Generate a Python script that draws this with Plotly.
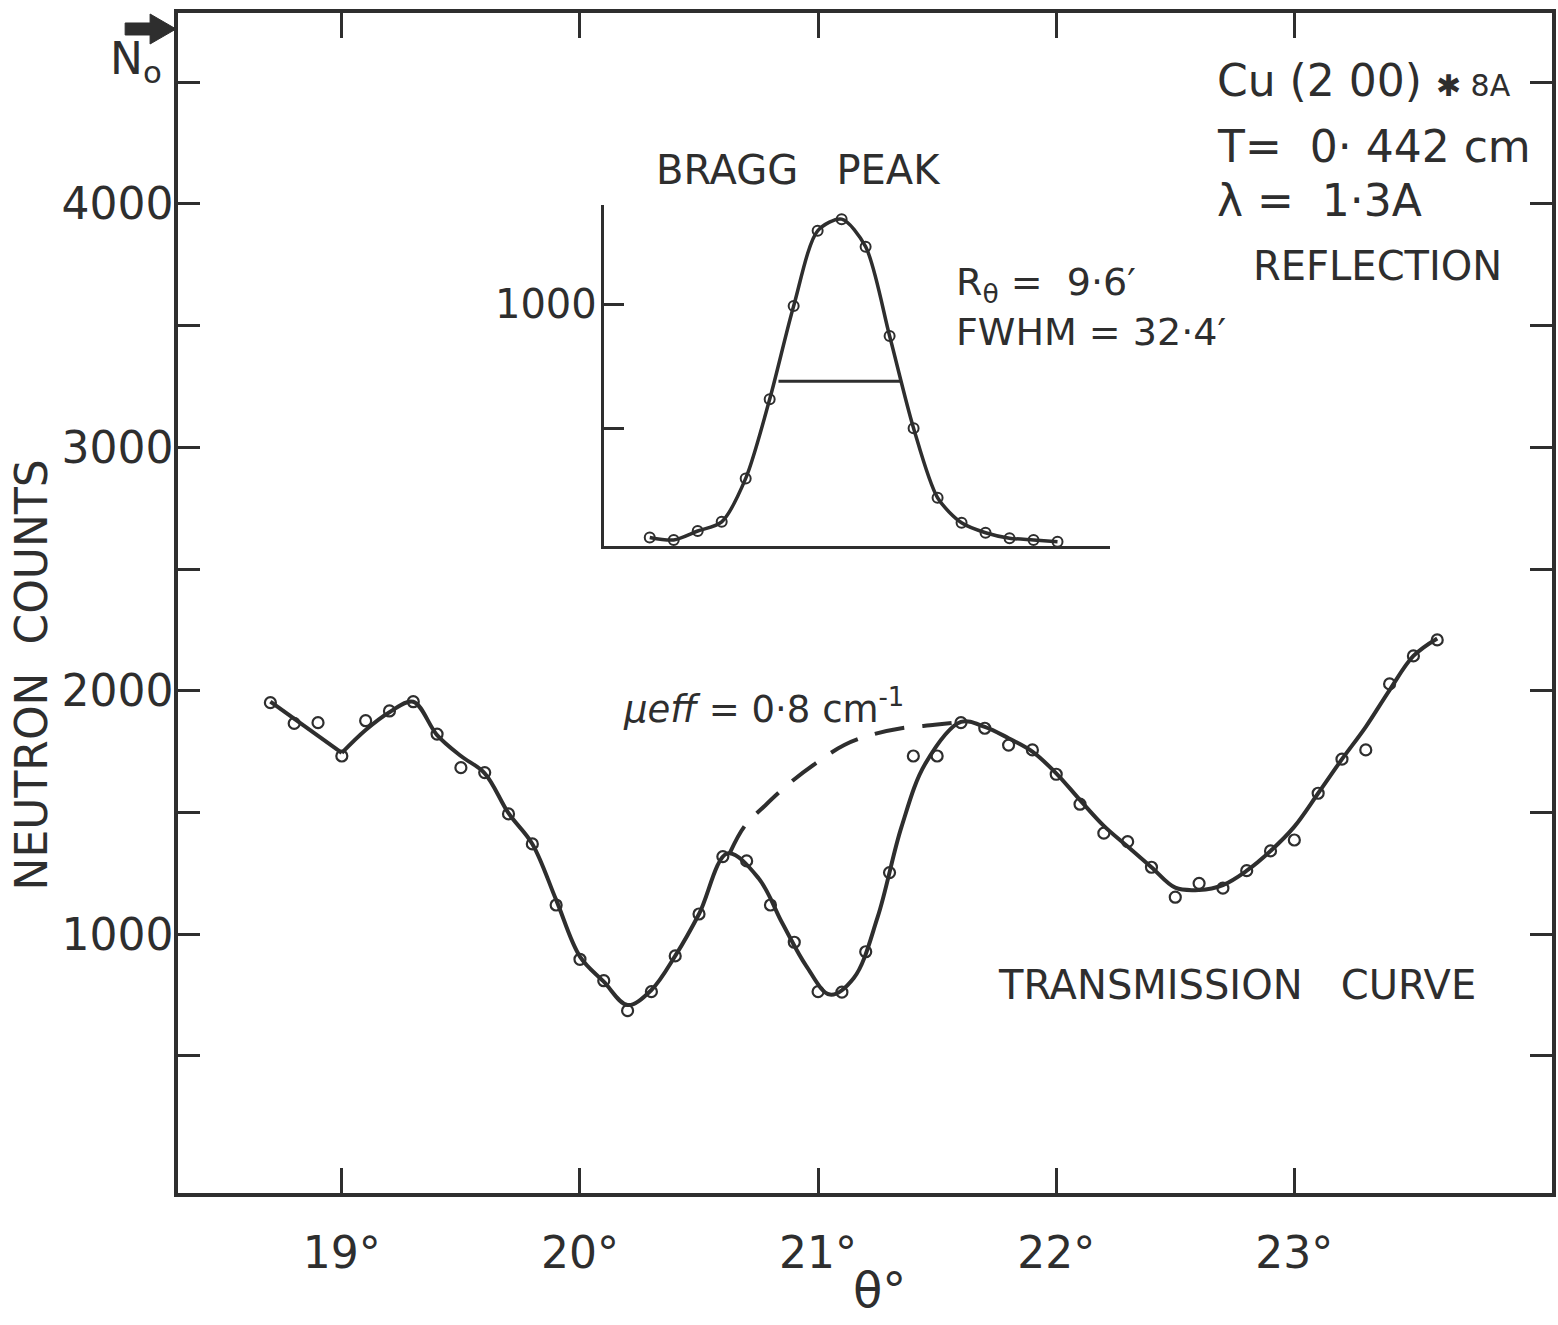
import plotly.graph_objects as go

# ---------------- data ----------------
# Transmission curve: measured points (theta in degrees, neutron counts)
theta = [18.7, 18.8, 18.9, 19.0, 19.1, 19.2, 19.3, 19.4, 19.5, 19.6,
         19.7, 19.8, 19.9, 20.0, 20.1, 20.2, 20.3, 20.4, 20.5, 20.6,
         20.7, 20.8, 20.9, 21.0, 21.1, 21.2, 21.3, 21.4, 21.5, 21.6,
         21.7, 21.8, 21.9, 22.0, 22.1, 22.2, 22.3, 22.4, 22.5, 22.6,
         22.7, 22.8, 22.9, 23.0, 23.1, 23.2, 23.3, 23.4, 23.5, 23.6]
counts = [1951, 1866, 1869, 1732, 1877, 1917, 1955, 1822, 1684, 1664,
          1494, 1371, 1120, 897, 809, 686, 764, 911, 1083, 1319,
          1301, 1120, 967, 764, 762, 928, 1253, 1732, 1732, 1869,
          1846, 1777, 1757, 1657, 1534, 1415, 1380, 1275, 1152, 1209,
          1189, 1261, 1342, 1387, 1579, 1719, 1757, 2028, 2143, 2209]

# Hand-drawn fitted curve
fit_a_theta = [18.7, 19.0]
fit_a_counts = [1955, 1745]
fit_b_theta = [19.0, 19.1, 19.2, 19.3, 19.4, 19.5, 19.6, 19.7, 19.8, 19.9,
               20.0, 20.1, 20.2, 20.3, 20.4, 20.5, 20.62, 20.75, 20.85, 20.95,
               21.05, 21.15, 21.25, 21.35, 21.45, 21.6, 21.7, 21.8,
               21.9, 22.0, 22.1, 22.2, 22.3, 22.4, 22.5, 22.6, 22.7, 22.8,
               22.9, 23.0, 23.1, 23.2, 23.3, 23.4, 23.5, 23.6]
fit_b_counts = [1745, 1839, 1912, 1955, 1818, 1732, 1661, 1497, 1371, 1141,
                908, 805, 709, 771, 911, 1083, 1332, 1230, 1045, 870,
                752, 820, 1070, 1440, 1700, 1872, 1852, 1805,
                1750, 1661, 1551, 1445, 1360, 1275, 1191, 1182, 1202, 1261,
                1342, 1442, 1579, 1719, 1852, 2003, 2143, 2215]

# mu_eff = 0.8 cm^-1 expected curve (dashed)
dash_theta = [20.63, 20.69, 20.78, 20.88, 20.99, 21.11, 21.22, 21.35, 21.49, 21.60]
dash_counts = [1335, 1442, 1531, 1620, 1702, 1777, 1818, 1846, 1860, 1872]

# Bragg peak inset (x in arc-minute steps, counts)
bragg_x = [0, 6, 12, 18, 24, 30, 36, 42, 48, 54, 60, 66, 72, 78, 84, 90, 96, 102]
bragg_counts = [60, 50, 86, 123, 298, 617, 993, 1296, 1343, 1232,
                872, 500, 220, 119, 79, 57, 50, 43]
fwhm_x = [32.2, 62.9]
fwhm_y = [690, 690]

x_ticks = [19, 20, 21, 22, 23]
x_ticktext = ["19°", "20°", "21°", "22°", "23°"]
y_ticks = [500, 1000, 1500, 2000, 2500, 3000, 3500, 4000, 4500]
y_ticktext = [" ", "1000", " ", "2000", " ", "3000", " ", "4000", " "]
inset_y_ticks = [500, 1000]
inset_y_ticktext = [" ", "1000"]

# ---------------- style ----------------
INK = "#2e2e2e"
FONT = "DejaVu Sans"
W, H = 1558, 1325
L, R, T, B = 178, 2, 13, 132
PW, PH = W - L - R, H - T - B


def px(x, y):
    return (x - L) / PW, (H - B - y) / PH


fig = go.Figure()

fig.add_trace(go.Scatter(x=fit_a_theta, y=fit_a_counts, mode="lines",
                         line=dict(color=INK, width=4), showlegend=False))
fig.add_trace(go.Scatter(x=fit_b_theta, y=fit_b_counts, mode="lines",
                         line=dict(color=INK, width=4, shape="spline", smoothing=1.0),
                         showlegend=False))
fig.add_trace(go.Scatter(x=dash_theta, y=dash_counts, mode="lines",
                         line=dict(color=INK, width=4, dash="30px,18px", shape="spline"),
                         showlegend=False))
fig.add_trace(go.Scatter(x=theta, y=counts, mode="markers",
                         marker=dict(symbol="circle-open", size=11, color=INK,
                                     line=dict(width=2.2, color=INK)),
                         showlegend=False))

# inset
fig.add_trace(go.Scatter(x=bragg_x, y=bragg_counts, mode="lines",
                         line=dict(color=INK, width=3.5, shape="spline", smoothing=0.8),
                         xaxis="x2", yaxis="y2", showlegend=False))
fig.add_trace(go.Scatter(x=bragg_x, y=bragg_counts, mode="markers",
                         marker=dict(symbol="circle-open", size=10, color=INK,
                                     line=dict(width=2, color=INK)),
                         xaxis="x2", yaxis="y2", showlegend=False))
fig.add_trace(go.Scatter(x=fwhm_x, y=fwhm_y, mode="lines",
                         line=dict(color=INK, width=3),
                         xaxis="x2", yaxis="y2", showlegend=False))

x0, y0 = px(605, 546)
x1, y1 = px(1113, 205)

fig.update_layout(
    width=W, height=H,
    margin=dict(l=L, r=R, t=T, b=B, pad=0),
    paper_bgcolor="white", plot_bgcolor="white",
    font=dict(family=FONT, color=INK),
    xaxis=dict(range=[18.312, 24.082], tickvals=x_ticks, ticktext=x_ticktext,
               ticks="inside", ticklen=25, tickwidth=3, tickcolor=INK,
               showline=True, linewidth=3.5, linecolor=INK, mirror="ticks",
               showgrid=False, zeroline=False, ticklabelstandoff=18,
               tickfont=dict(size=44, family=FONT, color=INK)),
    yaxis=dict(range=[-63, 4784], tickvals=y_ticks, ticktext=y_ticktext,
               ticks="inside", ticklen=22, tickwidth=3, tickcolor=INK,
               showline=True, linewidth=3.5, linecolor=INK, mirror="ticks",
               showgrid=False, zeroline=False, ticklabelstandoff=-8,
               tickfont=dict(size=44, family=FONT, color=INK)),
    xaxis2=dict(domain=[x0, x1], anchor="y2", range=[-11.5, 115.2],
                showline=True, linewidth=3, linecolor=INK, ticks="",
                showticklabels=False, showgrid=False, zeroline=False),
    yaxis2=dict(domain=[y0, y1], anchor="x2", range=[25.5, 1400],
                tickvals=inset_y_ticks, ticktext=inset_y_ticktext,
                ticks="inside", ticklen=20, tickwidth=3, tickcolor=INK,
                showline=True, linewidth=3, linecolor=INK,
                showgrid=False, zeroline=False, ticklabelstandoff=-4,
                tickfont=dict(size=40, family=FONT, color=INK)),
)


def note(text, x, y, size, xanchor="left", angle=0, **kw):
    ax_, ay_ = px(x, y)
    fig.add_annotation(text=text, x=ax_, y=ay_, xref="paper", yref="paper",
                       xanchor=xanchor, yanchor="middle", showarrow=False,
                       textangle=angle,
                       font=dict(size=size, family=FONT, color=INK), **kw)


note("NEUTRON  COUNTS", 32, 675, 44, xanchor="center", angle=-90)
note("θ°", 882, 1290, 48, xanchor="center")
note("BRAGG   PEAK", 800, 170, 40, xanchor="center")
note("R<sub>θ</sub> =  9·6′", 956, 284, 38)
note("FWHM = 32·4′", 956, 332, 38)
note("Cu (2 00) <span style='font-size:30px'>✱ 8A</span>", 1218, 80, 44)
note("T=  0· 442 cm", 1218, 146, 44)
note("λ =  1·3A", 1218, 200, 44)
note("REFLECTION", 1254, 266, 40)
note("<i>μeff</i> = 0·8 cm<sup>-1</sup>", 622, 706, 37)
note("TRANSMISSION   CURVE", 998, 985, 40)
note("N<sub>o</sub>", 136, 62, 44, xanchor="center")

# N0 block arrow pointing at the top of the axis
pts = [(125, 23), (150, 23), (150, 14), (176, 29), (150, 44), (150, 35), (125, 35)]
path = "M " + " L ".join(f"{px(a, b)[0]:.5f},{px(a, b)[1]:.5f}" for a, b in pts) + " Z"
fig.add_shape(type="path", path=path, xref="paper", yref="paper",
              fillcolor=INK, line=dict(color=INK, width=1))

fig.write_html("out.html")
